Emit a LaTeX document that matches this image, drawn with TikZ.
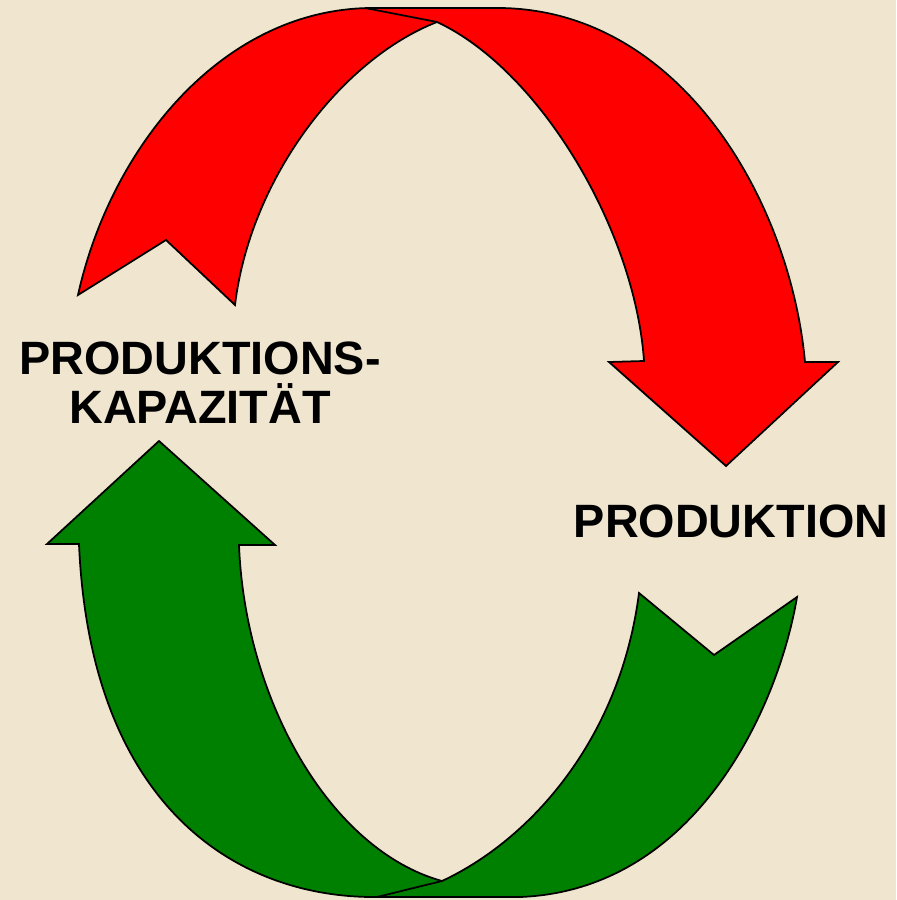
\documentclass[tikz,border=0pt]{standalone}
\usepackage{fontspec}
\setmainfont{Liberation Sans}
\usepackage{tikz}
\usetikzlibrary{positioning}

\definecolor{paper}{RGB}{240,230,207}
\definecolor{pfeilrot}{RGB}{255,0,0}
\definecolor{pfeilgruen}{RGB}{0,128,0}

\begin{document}
\begin{tikzpicture}[x=0.01cm,y=-0.01cm,rot/.style={fill=pfeilrot,draw=black,line width=0.5pt,line join=miter},gruen/.style={fill=pfeilgruen,draw=black,line width=0.5pt,line join=miter},lb/.style={font=\bfseries\fontsize{13.3}{14}\selectfont,align=center,inner sep=0pt}]
\fill[paper] (0,0) rectangle (896,900);
\useasboundingbox (0,0) rectangle (896,900);
% upper arrow: tail on the left, head on the right
\coordinate (rk) at (437,22);
\draw[rot] (78,295) .. controls (110,150) and (220,10) .. (370,8) -- (500,8)
  .. controls (680,10) and (790,200) .. (805,362) -- (838,362) -- (726,466) -- (609,362) -- (644,361)
  .. controls (635,230) and (540,70) .. (rk)
  .. controls (340,60) and (250,180) .. (235,305) -- (166,240) -- cycle;
\draw[line width=0.5pt] (rk) -- (365,8);
% lower arrow: tail on the right, head on the left
\coordinate (gk) at (442,881);
\draw[gruen] (797,597) .. controls (780,700) and (700,890) .. (520,897) -- (370,897)
  .. controls (230,895) and (90,800) .. (79,544) -- (47,544) -- (159,441) -- (275,545) -- (239,545)
  .. controls (245,700) and (330,850) .. (gk)
  .. controls (530,840) and (620,740) .. (639,593) -- (714,655) -- cycle;
\draw[line width=0.5pt] (gk) -- (377,897);
\node[lb] (kap) at (200,383) {PRODUKTIONS-\\KAPAZITÄT};
\node[lb] (prod) at (731,521) {PRODUKTION};
\end{tikzpicture}
\end{document}
